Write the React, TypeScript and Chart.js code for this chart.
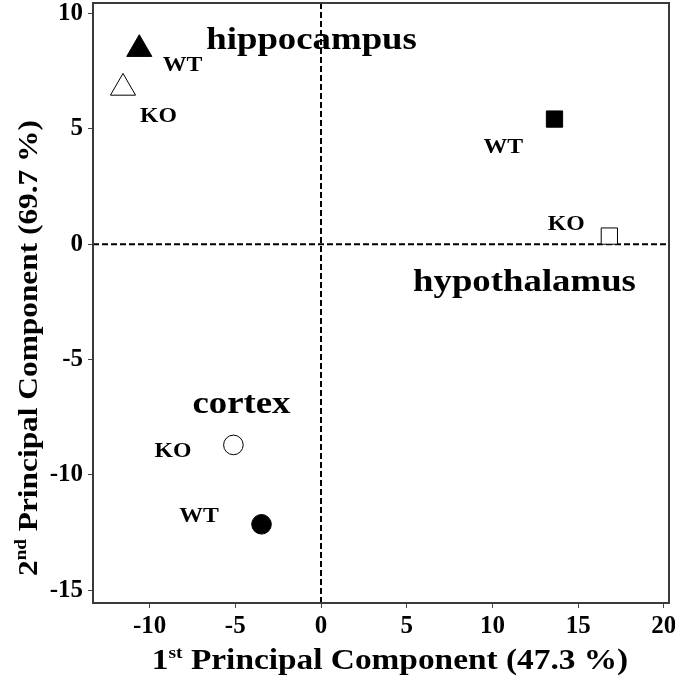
import React, { useEffect, useRef } from "react";
import { Chart, registerables } from "chart.js";

Chart.register(...registerables);

// ---- data ----
const regions = ["hippocampus", "hypothalamus", "cortex"];
const regionShapes = ["triangle", "rect", "circle"];
const wtPC1 = [-10.6, 13.62, -3.47];
const wtPC2 = [8.45, 5.42, -12.14];
const koPC1 = [-11.55, 16.82, -5.11];
const koPC2 = [6.77, 0.35, -8.7];

// label anchors (data units)
const regionLabelX = [-0.55, 11.87, -4.64];
const regionLabelY = [8.45, -2.02, -7.3];
const wtLabelX = [-8.08, 10.64, -7.11];
const wtLabelY = [7.52, 3.94, -12.05];
const koLabelX = [-9.48, 14.31, -8.63];
const koLabelY = [5.31, 0.62, -9.21];

const xTickValues = [-10, -5, 0, 5, 10, 15, 20];
const yTickValues = [-15, -10, -5, 0, 5, 10];

const xTitle = { main: "1", sup: "st", rest: " Principal Component (47.3 %)" };
const yTitle = { main: "2", sup: "nd", rest: " Principal Component (69.7 %)" };

const FONT = "'Liberation Serif', 'Times New Roman', serif";
const radii: Record<string, number> = { triangle: 14.5, rect: 11.5, circle: 9.8 };

function drawSupTitle(ctx: CanvasRenderingContext2D, t: { main: string; sup: string; rest: string }, size: number) {
  const big = `bold ${size}px ${FONT}`;
  const small = `bold ${Math.round(size * 0.6)}px ${FONT}`;
  ctx.font = big;
  const w1 = ctx.measureText(t.main).width;
  const w3 = ctx.measureText(t.rest).width;
  ctx.font = small;
  const w2 = ctx.measureText(t.sup).width;
  const total = w1 + w2 + w3;
  let x = -total / 2;
  ctx.textAlign = "left";
  ctx.textBaseline = "alphabetic";
  ctx.font = big;
  ctx.fillText(t.main, x, 0);
  x += w1;
  ctx.font = small;
  ctx.fillText(t.sup, x, -size * 0.38);
  x += w2;
  ctx.font = big;
  ctx.fillText(t.rest, x, 0);
}

const overlayPlugin = {
  id: "overlay",
  beforeDatasetsDraw(chart: any) {
    const { ctx, chartArea, scales } = chart;
    const x0 = scales.x.getPixelForValue(0);
    const y0 = scales.y.getPixelForValue(0);
    ctx.save();
    ctx.strokeStyle = "#000";
    ctx.lineWidth = 2;
    ctx.setLineDash([6, 3]);
    ctx.beginPath();
    ctx.moveTo(x0, chartArea.top);
    ctx.lineTo(x0, chartArea.bottom);
    ctx.moveTo(chartArea.left, y0);
    ctx.lineTo(chartArea.right, y0);
    ctx.stroke();
    ctx.restore();
  },
  afterDraw(chart: any) {
    const { ctx, chartArea, scales } = chart;
    ctx.save();
    // frame
    ctx.strokeStyle = "#3a3a3a";
    ctx.lineWidth = 2;
    ctx.strokeRect(chartArea.left, chartArea.top, chartArea.right - chartArea.left, chartArea.bottom - chartArea.top);
    ctx.fillStyle = "#000";
    // labels
    ctx.textAlign = "center";
    ctx.textBaseline = "alphabetic";
    regions.forEach((r, i) => {
      ctx.save();
      ctx.translate(scales.x.getPixelForValue(regionLabelX[i]), scales.y.getPixelForValue(regionLabelY[i]));
      ctx.scale(1.15, 1);
      ctx.font = `bold 32px ${FONT}`;
      ctx.fillText(r, 0, 0);
      ctx.restore();
      ctx.save();
      ctx.translate(scales.x.getPixelForValue(wtLabelX[i]), scales.y.getPixelForValue(wtLabelY[i]));
      ctx.scale(1.08, 1);
      ctx.font = `bold 22px ${FONT}`;
      ctx.fillText("WT", 0, 0);
      ctx.restore();
      ctx.save();
      ctx.translate(scales.x.getPixelForValue(koLabelX[i]), scales.y.getPixelForValue(koLabelY[i]));
      ctx.scale(1.08, 1);
      ctx.font = `bold 22px ${FONT}`;
      ctx.fillText("KO", 0, 0);
      ctx.restore();
    });
    // axis titles
    ctx.save();
    ctx.translate(390, 669);
    ctx.scale(1.15, 1);
    drawSupTitle(ctx, xTitle, 29);
    ctx.restore();
    ctx.save();
    ctx.translate(37, 348);
    ctx.rotate(-Math.PI / 2);
    ctx.scale(1.12, 1);
    drawSupTitle(ctx, yTitle, 28);
    ctx.restore();
    ctx.restore();
  },
};

export default function App() {
  const ref = useRef<HTMLCanvasElement>(null);
  useEffect(() => {
    document.body.style.margin = "0";
    const canvas = ref.current!;
    const chart = new Chart(canvas, {
      type: "scatter",
      data: {
        datasets: [
          {
            label: "WT",
            data: regions.map((_, i) => ({ x: wtPC1[i], y: wtPC2[i] })),
            pointStyle: regionShapes as any,
            pointRadius: regionShapes.map((s) => radii[s]),
            backgroundColor: "#000",
            borderColor: "#000",
            borderWidth: 1,
          },
          {
            label: "KO",
            data: regions.map((_, i) => ({ x: koPC1[i], y: koPC2[i] })),
            pointStyle: regionShapes as any,
            pointRadius: regionShapes.map((s) => radii[s]),
            backgroundColor: "#fff",
            borderColor: "#000",
            borderWidth: 1,
          },
        ],
      },
      options: {
        responsive: false,
        animation: false,
        layout: { autoPadding: false, padding: { top: 3, right: 6, left: 0, bottom: 0 } },
        plugins: { legend: { display: false }, tooltip: { enabled: false } },
        scales: {
          x: {
            type: "linear",
            min: -13.3,
            max: 20.3,
            afterFit: (s: any) => {
              s.height = 76;
              s.paddingLeft = 0;
              s.paddingRight = 0;
            },
            afterBuildTicks: (s: any) => {
              s.ticks = xTickValues.map((v) => ({ value: v }));
            },
            ticks: {
              color: "#000",
              padding: 4,
              font: { family: FONT, size: 25, weight: "bold" },
            },
            grid: { display: true, drawOnChartArea: false, drawTicks: true, tickLength: 5, color: "#444" },
            border: { display: true, color: "#3a3a3a", width: 2 },
          },
          y: {
            type: "linear",
            min: -15.55,
            max: 10.45,
            afterFit: (s: any) => {
              s.width = 93;
              s.paddingTop = 0;
              s.paddingBottom = 0;
            },
            afterBuildTicks: (s: any) => {
              s.ticks = yTickValues.map((v) => ({ value: v }));
            },
            ticks: {
              color: "#000",
              padding: 5,
              font: { family: FONT, size: 25, weight: "bold" },
            },
            grid: { display: true, drawOnChartArea: false, drawTicks: true, tickLength: 5, color: "#444" },
            border: { display: true, color: "#3a3a3a", width: 2 },
          },
        },
      },
      plugins: [overlayPlugin],
    });
    return () => chart.destroy();
  }, []);
  return <canvas ref={ref} width={675} height={679} style={{ display: "block" }} />;
}
